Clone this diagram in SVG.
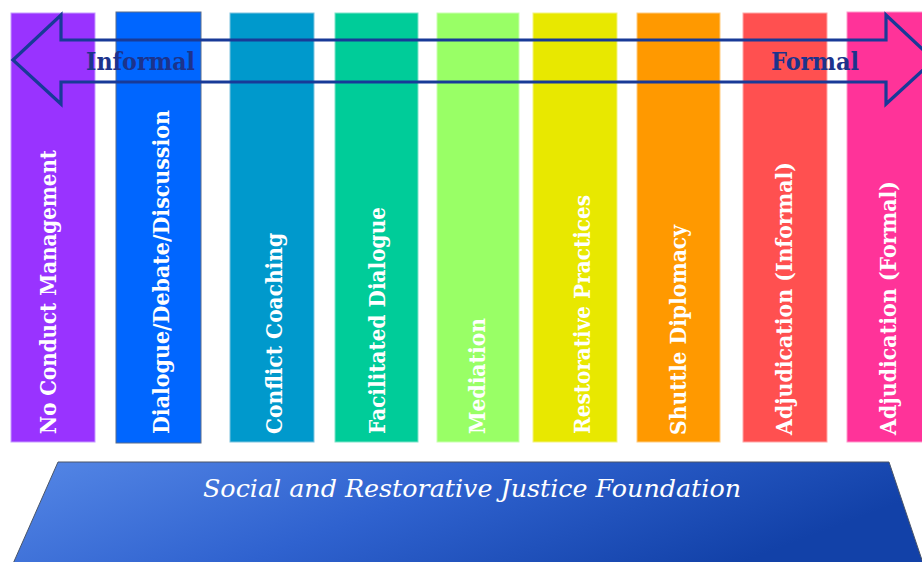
<svg xmlns="http://www.w3.org/2000/svg" width="922" height="562" viewBox="0 0 922 562">
  <defs>
    <linearGradient id="baseGrad" x1="0" y1="0" x2="1" y2="0.3">
      <stop offset="0" stop-color="#5587E6"/>
      <stop offset="0.5" stop-color="#2F62CF"/>
      <stop offset="1" stop-color="#1241A8"/>
    </linearGradient>
    <style>
      .bar { stroke-width: 1; }
      .lbl { font-family: "DejaVu Serif", "Liberation Serif", serif; font-weight: bold; font-size: 22px; fill: #FFFFFF; }
      .end { font-family: "DejaVu Serif", "Liberation Serif", serif; font-weight: bold; font-size: 24px; fill: #1C338C; }
      .found { font-family: "DejaVu Serif", "Liberation Serif", serif; font-style: italic; font-size: 25px; fill: #FFFFFF; }
      .arrow { fill: none; stroke: #183A98; stroke-width: 3.2; stroke-linejoin: miter; }
    </style>
  </defs>
  <rect width="922" height="562" fill="#FFFFFF"/>

  <g id="bar-no-conduct">
    <rect class="bar" x="11" y="13" width="84" height="429" fill="#9933FF" stroke="#C59BFF"/>
    <text class="lbl" transform="translate(56,434) rotate(-90)" textLength="284" lengthAdjust="spacingAndGlyphs">No Conduct Management</text>
  </g>
  <g id="bar-dialogue">
    <rect class="bar" x="116" y="12" width="85" height="431" fill="#0066FF" stroke="#5A6C8A"/>
    <text class="lbl" transform="translate(169,434) rotate(-90)" textLength="324" lengthAdjust="spacingAndGlyphs">Dialogue/Debate/Discussion</text>
  </g>
  <g id="bar-conflict-coaching">
    <rect class="bar" x="230" y="13" width="84" height="429" fill="#0099CC" stroke="#7FC4DF"/>
    <text class="lbl" transform="translate(282,434) rotate(-90)" textLength="201" lengthAdjust="spacingAndGlyphs">Conflict Coaching</text>
  </g>
  <g id="bar-facilitated-dialogue">
    <rect class="bar" x="335" y="13" width="83" height="429" fill="#00CC99" stroke="#7FE3C9"/>
    <text class="lbl" transform="translate(385,434) rotate(-90)" textLength="227" lengthAdjust="spacingAndGlyphs">Facilitated Dialogue</text>
  </g>
  <g id="bar-mediation">
    <rect class="bar" x="437" y="13" width="82" height="429" fill="#99FF66" stroke="#C9FFB0"/>
    <text class="lbl" transform="translate(485,434) rotate(-90)" textLength="116" lengthAdjust="spacingAndGlyphs">Mediation</text>
  </g>
  <g id="bar-restorative-practices">
    <rect class="bar" x="533" y="13" width="84" height="429" fill="#E8E800" stroke="#F3F380"/>
    <text class="lbl" transform="translate(590,434) rotate(-90)" textLength="239" lengthAdjust="spacingAndGlyphs">Restorative Practices</text>
  </g>
  <g id="bar-shuttle-diplomacy">
    <rect class="bar" x="637" y="13" width="83" height="429" fill="#FF9900" stroke="#FFCC80"/>
    <text class="lbl" transform="translate(686,435) rotate(-90)" textLength="210" lengthAdjust="spacingAndGlyphs">Shuttle Diplomacy</text>
  </g>
  <g id="bar-adjudication-informal">
    <rect class="bar" x="743" y="13" width="84" height="429" fill="#FF5050" stroke="#FFA8A8"/>
    <text class="lbl" transform="translate(792,435) rotate(-90)" textLength="273" lengthAdjust="spacingAndGlyphs">Adjudication (Informal)</text>
  </g>
  <g id="bar-adjudication-formal">
    <rect class="bar" x="847" y="12" width="80" height="430" fill="#FF3399" stroke="#FF99CC"/>
    <text class="lbl" transform="translate(896,435) rotate(-90)" textLength="254" lengthAdjust="spacingAndGlyphs">Adjudication (Formal)</text>
  </g>

  <g id="connectors">
    <path class="arrow" d="M13,60 L61,15 L61,40 L886,40 L886,15 L934,60 L886,104 L886,82 L61,82 L61,104 Z"/>
  </g>

  <g id="label-informal">
    <text class="end" x="86" y="70" textLength="109" lengthAdjust="spacingAndGlyphs">Informal</text>
  </g>
  <g id="label-formal">
    <text class="end" x="771" y="70" textLength="88" lengthAdjust="spacingAndGlyphs">Formal</text>
  </g>

  <g id="foundation">
    <polygon points="58,462 889,462 924,566 12,566" fill="url(#baseGrad)" stroke="#4A5568" stroke-width="1"/>
    <text class="found" x="203" y="497" textLength="538" lengthAdjust="spacingAndGlyphs">Social and Restorative Justice Foundation</text>
  </g>
</svg>
